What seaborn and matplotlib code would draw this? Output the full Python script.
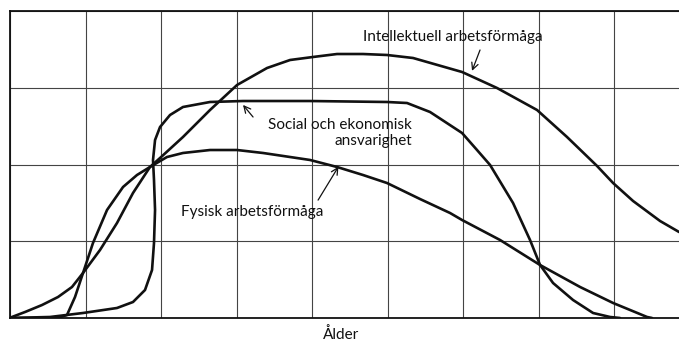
import matplotlib
matplotlib.use('Agg')
import matplotlib.pyplot as plt
import seaborn as sns

# ── Curves (x = age units, y = capacity 0–100) ─────────────
intellektuell_x = [0, 0.26, 1.99, 4.24, 6.36, 8.21, 9.67, 11.92, 14.17, 16.29, 18.54, 19.87,
                   22.91, 26.49, 30.07, 34.04, 37.09, 40.13, 43.31, 46.75, 49.93, 53.38,
                   59.87, 64.50, 69.80, 73.77, 77.75, 79.87, 82.52, 86.09, 88.61]
intellektuell_y = [0, 0.33, 1.95, 4.23, 6.84, 10.10, 14.66, 22.15, 30.94, 40.72, 49.19, 52.12,
                   58.96, 67.75, 75.90, 81.43, 84.04, 85.02, 85.99, 85.99, 85.67, 84.69,
                   80.13, 74.92, 67.75, 58.96, 49.51, 43.97, 38.11, 31.60, 28.01]

fysisk_x = [0, 6.23, 7.55, 8.61, 9.67, 10.99, 12.85, 14.97, 16.82, 18.54, 20.79, 22.91,
            26.49, 30.07, 33.51, 37.09, 39.74, 43.31, 46.75, 49.93, 54.30, 58.28, 59.87,
            64.90, 70.20, 75.50, 79.87, 84.37, 85.03]
fysisk_y = [0, 0, 0.98, 6.84, 14.66, 24.43, 35.18, 42.67, 46.58, 49.19, 52.44, 53.75,
            54.72, 54.72, 53.75, 52.44, 51.47, 49.19, 46.58, 43.97, 38.76, 34.20, 31.92,
            25.41, 17.26, 10.10, 4.89, 0.33, 0]

social_x = [0, 5.30, 9.67, 14.17, 16.29, 17.88, 18.81, 19.07, 19.21, 19.07, 18.94, 19.21,
            19.87, 21.19, 22.91, 26.49, 30.86, 39.74, 49.93, 52.58, 55.63, 59.87, 61.85,
            63.58, 66.62, 68.87, 70.20, 71.92, 74.57, 77.22, 79.47, 80.79]
social_y = [0, 0.33, 1.63, 3.26, 5.21, 9.12, 15.64, 24.43, 35.18, 44.95, 51.47, 57.98,
            62.21, 66.12, 68.73, 70.36, 70.68, 70.68, 70.36, 70.03, 67.10, 60.26, 54.72,
            49.84, 37.46, 25.41, 17.26, 11.40, 5.86, 1.63, 0.33, 0]

x_grid = [0, 10, 20, 30, 40, 50, 60, 70, 80]
y_grid = [0, 25, 50, 75, 100]

# ── Style ───────────────────────────────────────────────────
sns.set_theme(style="white")
plt.rcParams['font.family'] = ['Lato', 'DejaVu Sans']
ink = '#111111'

fig = plt.figure(figsize=(6.79, 3.46), dpi=100)
ax = fig.add_axes([10 / 679, 28 / 346, 669 / 679, 307 / 346])

for xs, ys in [(intellektuell_x, intellektuell_y),
               (fysisk_x, fysisk_y),
               (social_x, social_y)]:
    sns.lineplot(x=xs, y=ys, sort=False, estimator=None, ax=ax,
                 color=ink, linewidth=1.9, solid_joinstyle='round',
                 solid_capstyle='round')

ax.set_xlim(0, 88.6)
ax.set_ylim(0, 100)
ax.set_xticks(x_grid)
ax.set_yticks(y_grid)
ax.grid(True, color='#444444', linewidth=0.8)
ax.tick_params(length=0, labelbottom=False, labelleft=False)
for side in ['left', 'top', 'bottom']:
    ax.spines[side].set_color(ink)
    ax.spines[side].set_linewidth(1.3)
ax.spines['right'].set_visible(False)

ax.set_xlabel('Ålder', fontsize=11, color=ink)
ax.xaxis.set_label_coords((341 - 10) / 669, -0.03)

# ── Labels with arrows ──────────────────────────────────────
arrow = dict(arrowstyle='->', color=ink, lw=0.9, shrinkA=0, shrinkB=0)
ax.text(58.6, 91.5, 'Intellektuell arbetsförmåga', ha='center', va='center',
        fontsize=11, color=ink)
ax.annotate('', xy=(61.19, 80.5), xytext=(62.25, 87.3), arrowprops=arrow)

ax.text(53.2, 60.3, 'Social och ekonomisk\nansvarighet', ha='right', va='center',
        multialignment='right', fontsize=11, color=ink, linespacing=1.2)
ax.annotate('', xy=(30.86, 69.4), xytext=(32.19, 65.47), arrowprops=arrow)

ax.text(32.1, 34.5, 'Fysisk arbetsförmåga', ha='center', va='center',
        fontsize=11, color=ink)
ax.annotate('', xy=(43.5, 49.3), xytext=(40.8, 38.4), arrowprops=arrow)

fig.savefig('out.png', dpi=100)
